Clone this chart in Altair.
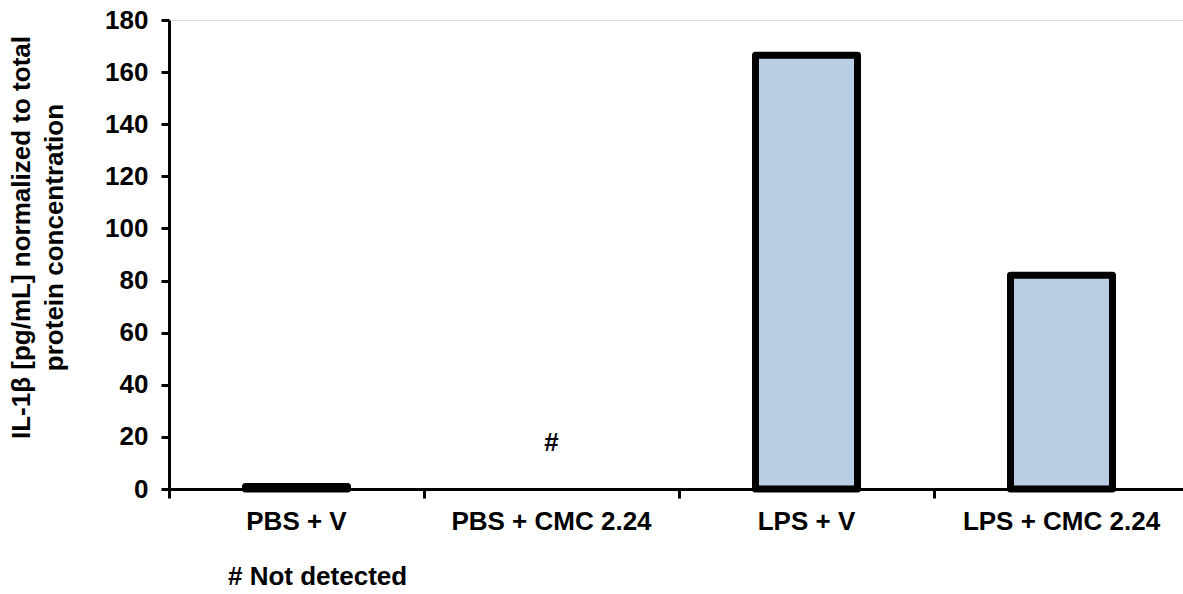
import altair as alt
import pandas as pd

# IL-1β per treatment group, normalized to total protein
groups = ["PBS + V", "PBS + CMC 2.24", "LPS + V", "LPS + CMC 2.24"]
il1b = [1.0, None, 166.5, 82.0]

# groups where the analyte was below detection
not_detected_groups = ["PBS + CMC 2.24"]
not_detected_marker_y = [17.5]

FONT = "Liberation Sans"
FS = 26

bars_df = pd.DataFrame({"group": groups, "value": il1b}).dropna()
nd_df = pd.DataFrame({"group": not_detected_groups, "value": not_detected_marker_y, "label": ["#"]})

# categories fill the whole step; bar width is set on the mark itself
x_scale = alt.Scale(domain=groups, range=[0, 1020], paddingInner=0, paddingOuter=0)

x_enc = alt.X(
    "group:N",
    sort=groups,
    scale=x_scale,
    axis=alt.Axis(
        title=None,
        labelAngle=0,
        labelFont=FONT,
        labelFontSize=FS,
        labelFontWeight="bold",
        labelColor="black",
        labelPadding=10,
        labelLimit=0,
        bandPosition=0,
        domainColor="black",
        domainWidth=3,
        tickColor="black",
        tickWidth=3,
        tickSize=9,
        grid=False,
    ),
)

y_scale = alt.Scale(domain=[0, 180], nice=False)
y_axis = alt.Axis(
    title=["IL-1β [pg/mL] normalized to total", "protein concentration"],
    titleFont=FONT,
    titleFontSize=FS,
    titleFontWeight="bold",
    titleColor="black",
    titleLineHeight=33,
    titlePadding=37,
    titleY=217,
    values=list(range(0, 181, 20)),
    labelFont=FONT,
    labelFontSize=FS,
    labelFontWeight="bold",
    labelColor="black",
    labelPadding=13,
    domainColor="black",
    domainWidth=3,
    tickColor="black",
    tickWidth=3,
    tickSize=8,
    grid=False,
)

bars = alt.Chart(bars_df).mark_bar(
    fill="#B9CDE5",
    stroke="black",
    strokeWidth=7,
    strokeJoin="round",
    width=alt.RelativeBandSize(0.4),
).encode(
    x=x_enc,
    y=alt.Y("value:Q", scale=y_scale, axis=y_axis),
)

marker = alt.Chart(nd_df).mark_text(
    font=FONT, fontSize=FS, fontWeight="bold", color="black", baseline="middle"
).encode(
    x=alt.X("group:N", sort=groups, scale=x_scale),
    y=alt.Y("value:Q", scale=y_scale),
    text="label:N",
)

note = alt.Chart(pd.DataFrame({"t": ["# Not detected"]})).mark_text(
    font=FONT, fontSize=FS, fontWeight="bold", color="black", align="left", baseline="middle"
).encode(
    x=alt.value(59),
    y=alt.value(557),
    text="t:N",
)

chart = (
    alt.layer(bars, marker, note)
    .properties(
        width=1014,
        height=469,
        autosize=alt.AutoSizeParams(type="none"),
        padding={"left": 169, "top": 20, "right": 0, "bottom": 105},
    )
    .configure_view(stroke=None)
    .configure(background="white")
)

chart.save("out.html", embed_options={"renderer": "svg", "actions": False})
